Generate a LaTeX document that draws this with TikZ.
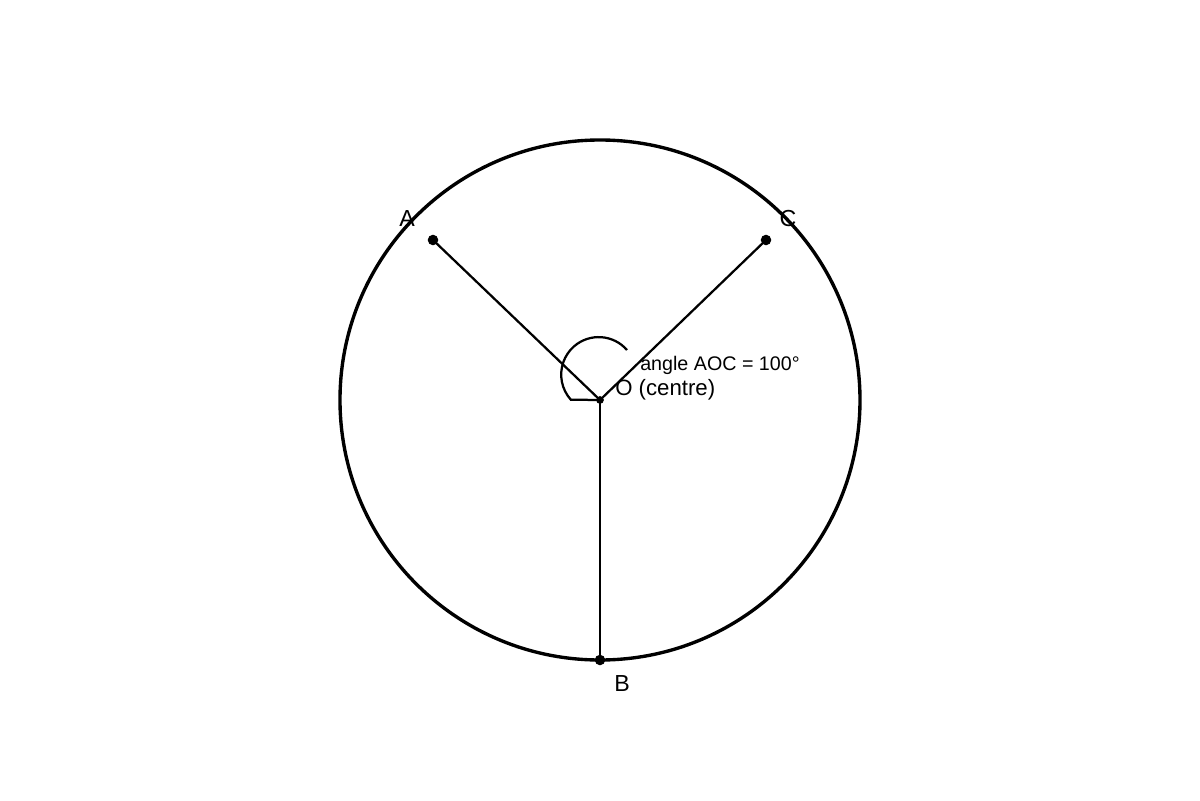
\documentclass[tikz,border=0pt]{standalone}
\usepackage{fontspec}
\setmainfont{Liberation Sans}
\usetikzlibrary{calc}

\begin{document}
\begin{tikzpicture}[x=2.5cm,y=2.5cm,
  dot/.style={circle, fill=black, inner sep=0pt, minimum size=#1},
  lbl/.style={font=\fontsize{16.5}{19}\selectfont}]
\useasboundingbox (-6,-4) rectangle (6,4);

\draw [black, line width=2.4pt] (0,0) circle (2.6);

\node (O) [dot=5.5pt] at (0,0) {};
\node (A) [dot=7.5pt] at (-1.67,1.6) {};
\node (C) [dot=7.5pt] at (1.66,1.6) {};
\node (B) [dot=7.5pt] at (0,-2.6) {};

\draw [black, line width=1.6pt] (O.center) -- (A.center);
\draw [black, line width=1.6pt] (O.center) -- (C.center);
\draw [black, line width=1.6pt] (O.center) -- (B.center);

\coordinate (arcstart) at (0.27,0.5);
\draw [black, line width=1.6pt] (arcstart) arc[start angle=41, end angle=222, radius=0.375] -- (O.center);

\node (labA) [lbl, anchor=center] at (-1.93,1.81) {A};
\node (labC) [lbl, anchor=center] at (1.88,1.81) {C};
\node (labB) [lbl, anchor=center] at (0.22,-2.84) {B};
\node (labO) [anchor=west, inner sep=0pt, font=\fontsize{15.8}{18}\selectfont] at (0.15,0.10) {O (centre)};
\node (labAng) [anchor=west, inner sep=0pt, font=\fontsize{14}{16}\selectfont] at (0.40,0.35) {angle AOC = 100°};

\end{tikzpicture}
\end{document}
